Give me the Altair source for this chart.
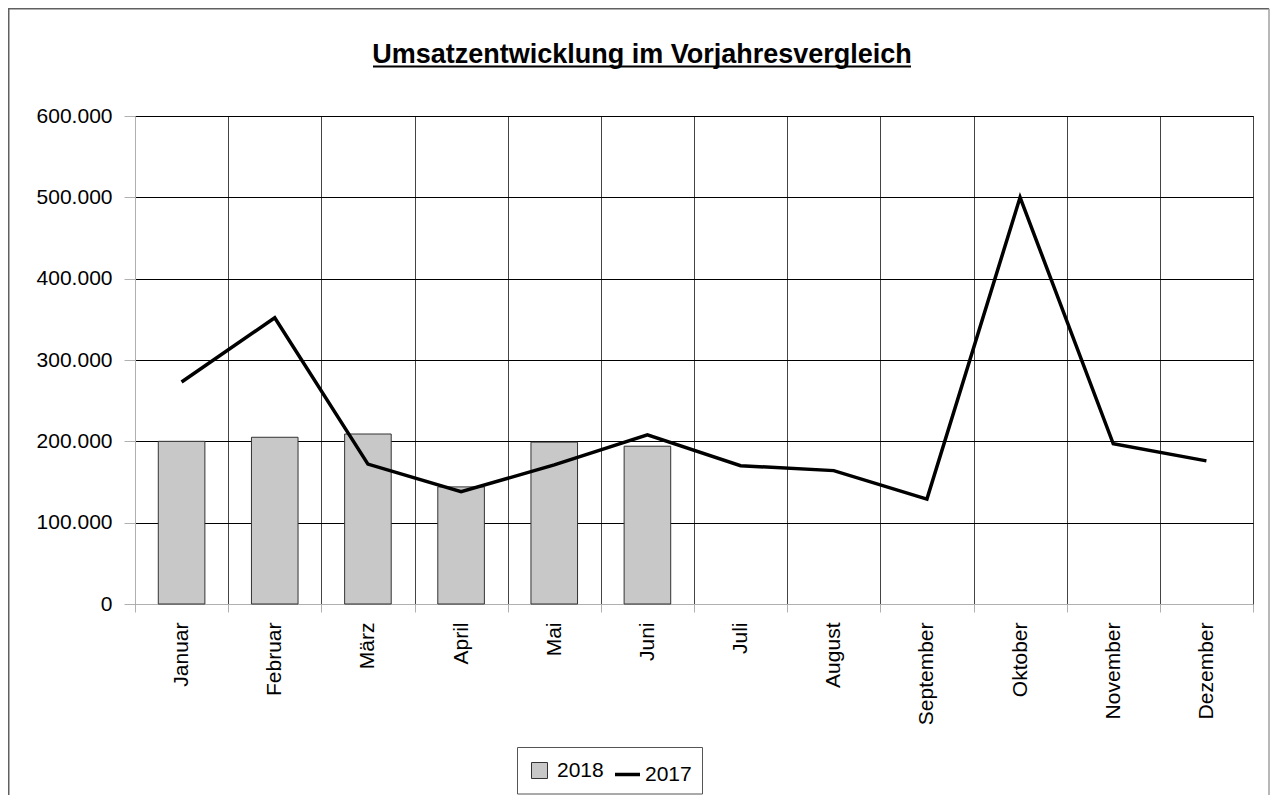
import altair as alt
import pandas as pd

months = ["Januar", "Februar", "März", "April", "Mai", "Juni", "Juli",
          "August", "September", "Oktober", "November", "Dezember"]
sales_2018 = [200000, 205000, 209000, 144000, 199000, 194000]
sales_2017 = [273000, 352000, 172000, 138000, 171000, 208000, 170000,
              164000, 129000, 500000, 197000, 176000]
y_ticks = [0, 100000, 200000, 300000, 400000, 500000, 600000]
title_text = "Umsatzentwicklung im Vorjahresvergleich"

FONT = "Liberation Sans"
PAD_L, PAD_T, PAD_R, PAD_B = 127, 108, 17, 191
W, H = 1118, 488

bars_df = pd.DataFrame({"Monat": months[:len(sales_2018)], "Umsatz": sales_2018, "Jahr": "2018"})
line_df = pd.DataFrame({"Monat": months, "Umsatz": sales_2017, "Jahr": "2017"})

x_enc = alt.X(
    "Monat:N",
    sort=months,
    scale=alt.Scale(domain=months, paddingInner=0, paddingOuter=0),
    axis=alt.Axis(
        title=None, labelAngle=270, labelAlign="right", labelBaseline="middle",
        labelFont=FONT, labelFontSize=21, labelColor="black", labelPadding=10,
        tickBand="extent", tickSize=8, tickColor="#b0b0b0",
        domainColor="#b0b0b0", grid=True, gridColor="#444444", gridWidth=1,
    ),
)
y_enc = alt.Y(
    "Umsatz:Q",
    scale=alt.Scale(domain=[0, 600000], nice=False),
    axis=alt.Axis(
        title=None, values=y_ticks,
        labelExpr="datum.value == 0 ? '0' : format(datum.value / 1000, 'd') + '.000'",
        labelFont=FONT, labelFontSize=21, labelColor="black", labelPadding=12,
        tickSize=11, tickColor="#b0b0b0", domainColor="#b0b0b0",
        grid=True, gridColor="#000000", gridWidth=1,
    ),
)

LEG_Y = 644

bars = alt.Chart(bars_df).mark_bar(
    width={"band": 0.5}, stroke="#333333", strokeWidth=1
).encode(
    x=x_enc,
    y=y_enc,
    fill=alt.Fill(
        "Jahr:N",
        scale=alt.Scale(domain=["2018"], range=["#c8c8c8"]),
        legend=alt.Legend(
            title=None, orient="none", legendX=394, legendY=LEG_Y, padding=0,
            symbolType="square", symbolSize=256, symbolStrokeColor="#333333",
            symbolStrokeWidth=1, labelFont=FONT, labelFontSize=21,
            labelColor="black", labelOffset=7,
        ),
    ),
)

line = alt.Chart(line_df).mark_line(strokeWidth=3.5, color="black").encode(
    x=alt.X("Monat:N", sort=months),
    y=alt.Y("Umsatz:Q"),
    stroke=alt.Stroke(
        "Jahr:N",
        scale=alt.Scale(domain=["2017"], range=["black"]),
        legend=alt.Legend(
            title=None, orient="none", legendX=478, legendY=LEG_Y, padding=0,
            symbolType="stroke", symbolSize=625, symbolStrokeWidth=3.5,
            labelFont=FONT, labelFontSize=21, labelColor="black", labelOffset=3,
        ),
    ),
)

deco = alt.Data(values=[{"t": title_text}])
bottom = H + PAD_B + 5
right = W + PAD_R - 1

frame_left = alt.Chart(deco).mark_rule(stroke="#606060", strokeWidth=1.5).encode(
    x=alt.value(-PAD_L + 0.75), y=alt.value(-PAD_T + 0.75), y2=alt.value(bottom)
)
frame_top = alt.Chart(deco).mark_rule(stroke="#606060", strokeWidth=1.5).encode(
    x=alt.value(-PAD_L), x2=alt.value(right), y=alt.value(-PAD_T + 0.75)
)
frame_right = alt.Chart(deco).mark_rule(stroke="#a0a0a0", strokeWidth=1.5).encode(
    x=alt.value(right), y=alt.value(-PAD_T + 0.75), y2=alt.value(bottom)
)
legend_box = alt.Chart(deco).mark_rect(fill=None, stroke="#555555", strokeWidth=1).encode(
    x=alt.value(382.5), x2=alt.value(567.5), y=alt.value(LEG_Y - 12.5), y2=alt.value(LEG_Y + 34)
)
title = alt.Chart(deco).mark_text(
    font=FONT, fontSize=27, fontWeight="bold", color="black",
    align="center", baseline="alphabetic"
).encode(x=alt.value(507), y=alt.value(-53), text="t:N")
underline = alt.Chart(deco).mark_rule(stroke="black", strokeWidth=2).encode(
    x=alt.value(238), x2=alt.value(776), y=alt.value(-49.5)
)

chart = alt.layer(
    frame_left, frame_top, frame_right, bars, line, legend_box, title, underline
).resolve_scale(
    fill="independent", stroke="independent"
).properties(
    width=W, height=H,
    autosize=alt.AutoSizeParams(type="none"),
    padding={"left": PAD_L, "top": PAD_T, "right": PAD_R, "bottom": PAD_B},
    background="white",
).configure_view(stroke="#333333", strokeWidth=1)

chart.save("out.html", embed_options={"renderer": "svg", "actions": False})
